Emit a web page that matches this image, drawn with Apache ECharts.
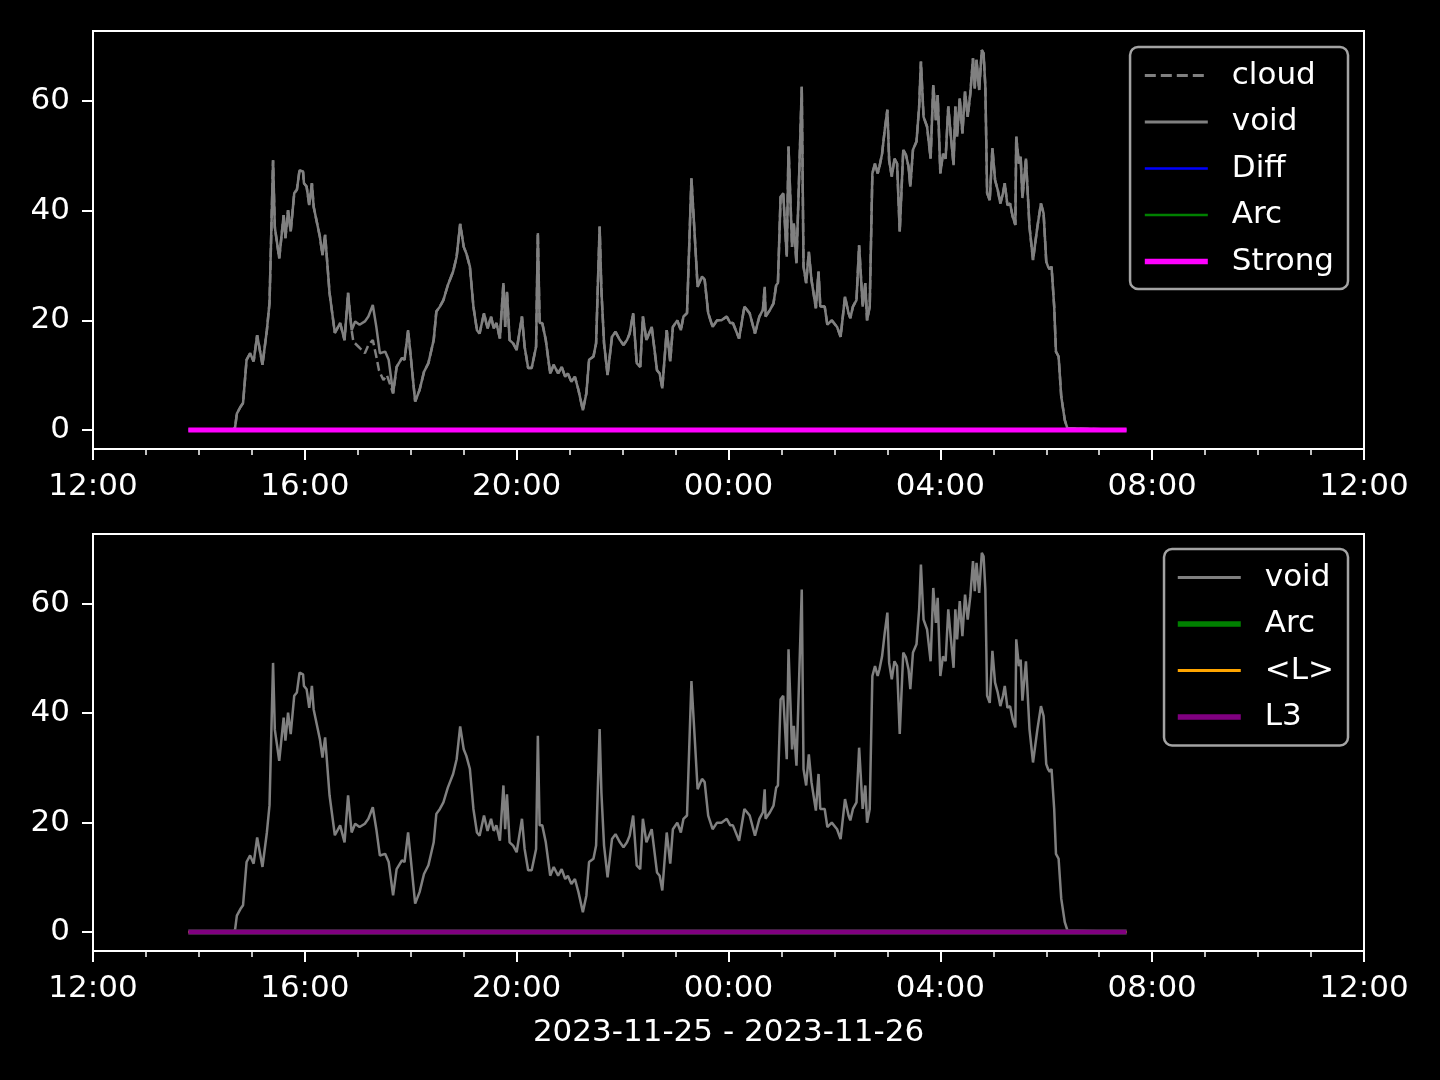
<!DOCTYPE html>
<html>
<head>
<meta charset="utf-8">
<script src="https://cdn.jsdelivr.net/npm/echarts@6/dist/echarts.min.js"></script>
<style>html,body{margin:0;padding:0;background:#000;}#c{width:1440px;height:1080px;}</style>
</head>
<body>
<div id="c"></div>
<script>
// ---- data ----
const voidTimes = ['13:48','14:39','14:41','14:43','14:47','14:50','14:54','14:58','15:02','15:06','15:12','15:17','15:20','15:24','15:26','15:31','15:36','15:38','15:41','15:44','15:48','15:51','15:54','15:58','15:59','16:02','16:05','16:08','16:10','16:17','16:20','16:23','16:28','16:34','16:40','16:45','16:49','16:53','16:57','17:02','17:08','17:12','17:17','17:21','17:25','17:31','17:35','17:40','17:44','17:50','17:53','17:57','18:00','18:05','18:10','18:15','18:20','18:26','18:29','18:33','18:37','18:42','18:48','18:52','18:56','19:00','19:03','19:07','19:11','19:15','19:18','19:23','19:27','19:31','19:34','19:37','19:41','19:45','19:47','19:49','19:52','19:56','20:00','20:06','20:09','20:13','20:17','20:22','20:24','20:26','20:29','20:33','20:38','20:42','20:47','20:51','20:55','20:58','21:02','21:06','21:10','21:15','21:19','21:22','21:27','21:30','21:34','21:36','21:39','21:43','21:48','21:52','21:57','22:01','22:05','22:08','22:12','22:16','22:20','22:23','22:27','22:33','22:39','22:42','22:45','22:50','22:54','22:57','23:02','23:06','23:09','23:13','23:18','23:22','23:25','23:30','23:33','23:37','23:42','23:47','23:52','23:58','00:02','00:05','00:12','00:18','00:24','00:30','00:35','00:39','00:41','00:42','00:47','00:51','00:54','00:56','00:59','01:02','01:06','01:08','01:12','01:14','01:17','01:20','01:23','01:25','01:28','01:31','01:34','01:39','01:42','01:44','01:49','01:52','01:57','02:03','02:07','02:12','02:16','02:18','02:21','02:25','02:28','02:32','02:35','02:37','02:40','02:43','02:46','02:49','02:51','02:54','02:57','03:00','03:02','03:05','03:08','03:11','03:14','03:18','03:21','03:24','03:26','03:29','03:33','03:36','03:38','03:41','03:45','03:49','03:52','03:55','03:57','04:00','04:03','04:06','04:09','04:12','04:15','04:17','04:19','04:22','04:25','04:28','04:31','04:34','04:37','04:39','04:41','04:44','04:47','04:49','04:51','04:53','04:56','04:59','05:02','05:05','05:08','05:11','05:13','05:16','05:19','05:22','05:25','05:26','05:29','05:31','05:33','05:37','05:41','05:45','05:50','05:54','05:57','06:00','06:02','06:04','06:06','06:09','06:11','06:14','06:17','06:21','06:24','06:26','07:31'];
const voidValues = [0,0,0.5,3,4.2,4.9,12.8,14,12.5,17.3,11.9,18.2,23.2,49.2,37,31.3,39.2,35,40.1,36.2,43.2,43.8,47.4,47.1,45,44.4,41,45,40.7,35.3,31.9,35.6,25,17.7,19.5,16.4,25,18.2,19.8,19.2,19.8,20.7,22.8,18.8,14,14.3,12.8,6.7,11.5,13.1,12.8,18.2,13.4,5.2,7.3,10.6,12.2,16.4,21.6,22.5,23.7,26.4,28.9,31.6,37.6,33.4,32.2,29.8,22.5,18.2,17.6,21.3,18.5,20.7,18.5,19.5,16.7,26.8,18.8,25.2,16.4,15.8,14.6,20.7,15.2,11.3,11.3,15.2,35.9,19.5,19.5,16.4,10.3,11.9,10.3,11.5,9.7,10.3,8.8,9.7,7.3,3.6,6.7,12.8,13.4,15.8,37.1,25.5,15.8,10,17,17.9,16.4,15.5,16.4,17.6,21.3,12.2,11.5,20.7,16.4,18.8,10.9,10.3,7.6,18.2,12.5,18.8,20,18.2,20.7,21.3,45.9,34.7,26.1,28,27.4,21.3,18.8,20,20,20.7,19.5,19.5,16.7,22.5,21.3,17.6,20.7,21.9,26.1,20.7,21.9,23.1,26.4,26.8,42.5,43.2,31.6,51.7,33.4,37.7,30.4,46.2,62.6,29.8,26.8,32.5,27.4,22.2,28.9,22.5,22.5,19.2,20,18.8,17,24.3,21.3,20.4,22.5,23.7,33.7,22.5,26.8,20,22.5,46.8,48.6,46.8,48,50.4,54.7,58.4,49.2,46.2,49.5,48.6,36.2,51.1,50.2,48,44.4,51.1,52.6,59,67.2,57.1,55.3,49.5,62.9,56.5,61.1,46.8,50.4,49.5,59,53.5,48.3,59,53.5,60.5,54.1,61.7,57.1,61.4,67.8,62.3,67.5,62,69.3,68.7,62.6,43.2,41.9,51.4,45.6,43.8,41.3,43.2,45,41,41.3,38.9,37.4,53.5,48.6,49.8,42.3,49.5,37.1,31,37.1,41.3,39.5,30.7,29.8,29.3,29.8,22.5,14.3,13.4,6.1,1.8,0.3,0,0];
// where "cloud" departs from "void"
const cloudSegTimes = ['16:55','17:02','17:08','17:12','17:17','17:21','17:24','17:29','17:33'];
const cloudSegValues = [16.1,15,14,15.5,16.4,13.4,10.9,9.1,10];
const flatTimes = ['13:48','07:31'];
const diffValues = [0,0];
const arcValues = [0,0];
const strongValues = [0,0];
const lValues = [0,0];
const l3Values = [0,0];
const xTickLabels = ['12:00','16:00','20:00','00:00','04:00','08:00','12:00'];
const yTickValues = [0,20,40,60];
const xLabel = '2023-11-25 - 2023-11-26';

// hours after 2023-11-25 12:00
function toH(t){ const p=t.split(':').map(Number); let v=p[0]+p[1]/60-12; if(v<0) v+=24; return v; }
function pairs(ts, vs){ return ts.map((t,i)=>[toH(t), vs[i]]); }

const voidData = pairs(voidTimes, voidValues);
const segStart = toH('16:54'), segEnd = toH('17:36');
const cloudData = voidData.filter(p => p[0] < segStart || p[0] > segEnd)
  .concat(pairs(cloudSegTimes, cloudSegValues)).sort((a,b)=>a[0]-b[0]);

const FONT = 'DejaVu Sans';
const FS = 31;
const WHITE = '#ffffff';

function xAxis(gi){
  return {
    type:'value', gridIndex:gi, min:0, max:24, interval:4,
    axisLine:{show:true, onZero:false, lineStyle:{color:WHITE, width:2}},
    axisTick:{show:true, length:11, lineStyle:{color:WHITE, width:2}},
    minorTick:{show:true, splitNumber:4, length:6, lineStyle:{color:WHITE, width:1.5}},
    splitLine:{show:false}, minorSplitLine:{show:false},
    axisLabel:{color:WHITE, fontSize:FS, fontFamily:FONT, margin:22,
      formatter:(v)=>xTickLabels[Math.round(v/4)]},
    name: gi===1 ? xLabel : '', nameLocation:'middle', nameGap:66,
    nameTextStyle:{color:WHITE, fontSize:FS, fontFamily:FONT}
  };
}
function yAxis(gi){
  return {
    type:'value', gridIndex:gi, min:-3.465, max:72.765,
    axisLine:{show:true, onZero:false, lineStyle:{color:WHITE, width:2}},
    axisTick:{show:true, length:11, lineStyle:{color:WHITE, width:2}, customValues:yTickValues},
    axisLabel:{color:WHITE, fontSize:FS, fontFamily:FONT, margin:23, customValues:yTickValues},
    splitLine:{show:false}
  };
}
function line(name, data, gi, color, width, extra){
  return Object.assign({
    name, type:'line', xAxisIndex:gi, yAxisIndex:gi, data, symbol:'none', showSymbol:false,
    lineStyle:{color, width}, itemStyle:{color}, silent:true, animation:false
  }, extra||{});
}
const legendBase = {
  orient:'vertical', align:'left', itemWidth:63, itemHeight:14, itemGap:15.5,
  backgroundColor:'#000', borderColor:'#a3a3a3', borderWidth:2.5, borderRadius:8,
  itemStyle:{opacity:0},
  textStyle:{color:WHITE, fontSize:FS, fontFamily:FONT, lineHeight:30, padding:[0,0,0,19]},
  selectedMode:false
};

const chart = echarts.init(document.getElementById('c'), null, {renderer:'canvas'});
chart.setOption({
  backgroundColor:'#000',
  animation:false,
  grid:[
    {left:93, top:31, width:1271, height:418, show:true, borderColor:WHITE, borderWidth:2, outerBoundsMode:'none', containLabel:false},
    {left:93, top:534, width:1271, height:417, show:true, borderColor:WHITE, borderWidth:2, outerBoundsMode:'none', containLabel:false}
  ],
  xAxis:[xAxis(0), xAxis(1)],
  yAxis:[yAxis(0), yAxis(1)],
  legend:[
    Object.assign({}, legendBase, {right:92, top:47, padding:[13,14,12,12],
      data:[
        {name:'cloud', lineStyle:{width:3, type:[11,5], color:'#808080'}},
        {name:'void', lineStyle:{width:3, color:'#808080'}},
        {name:'Diff', lineStyle:{width:2.5, color:'#0000ff'}},
        {name:'Arc', lineStyle:{width:2.5, color:'#008000'}},
        {name:'Strong', lineStyle:{width:5.5, color:'#ff00ff'}}
      ]}),
    Object.assign({}, legendBase, {right:92, top:549, padding:[13,14,13,11],
      data:[
        {name:'void', lineStyle:{width:3, color:'#808080'}},
        {name:'Arc', lineStyle:{width:5.5, color:'#008000'}},
        {name:'<L>', lineStyle:{width:3, color:'#ffa500'}},
        {name:'L3', lineStyle:{width:5.5, color:'#800080'}}
      ]})
  ],
  series:[
    line('cloud', cloudData, 0, '#808080', 2.5, {lineStyle:{color:'#808080', width:2.5, type:[9,4]}}),
    line('void', voidData, 0, '#808080', 2.5),
    line('Diff', pairs(flatTimes, diffValues), 0, '#0000ff', 2),
    line('Arc', pairs(flatTimes, arcValues), 0, '#008000', 2),
    line('Strong', pairs(flatTimes, strongValues), 0, '#ff00ff', 5),
    line('void', voidData, 1, '#808080', 2.5),
    line('Arc', pairs(flatTimes, arcValues), 1, '#008000', 5),
    line('<L>', pairs(flatTimes, lValues), 1, '#ffa500', 2),
    line('L3', pairs(flatTimes, l3Values), 1, '#800080', 5)
  ]
});
</script>
</body>
</html>
